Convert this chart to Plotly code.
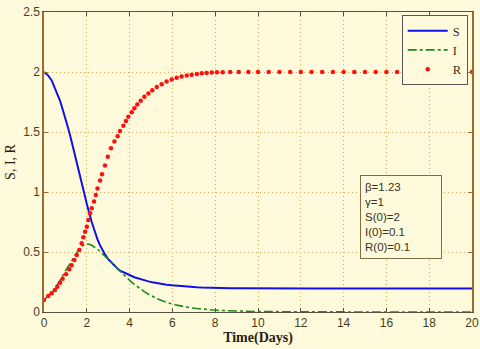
import plotly.graph_objects as go

# time points (days)
t = [0, 0.2, 0.36, 0.51, 0.62, 0.75, 0.87, 1.03, 1.18, 1.29, 1.42, 1.53, 1.65, 1.76,
     1.84, 1.92, 2.0, 2.07, 2.15, 2.23, 2.34, 2.42, 2.5, 2.62, 2.71, 2.85, 2.98, 3.13,
     3.29, 3.44, 3.55, 3.71, 3.83, 3.94, 4.1, 4.22, 4.36, 4.52, 4.69, 4.88, 5.06, 5.27,
     5.5, 5.73, 5.97, 6.2, 6.43, 6.67, 6.9, 7.14, 7.37, 7.6, 7.84, 8.08, 8.35, 8.7, 9.1,
     9.55, 10.0, 10.5, 11.0, 11.5, 12.0, 12.5, 13.0, 13.5, 14.0, 14.5, 15.0, 15.5, 16.0,
     16.5, 17.0, 17.5, 18.0, 18.5, 19.0, 19.5, 20.0]

S = [2.0, 1.97, 1.93, 1.87, 1.82, 1.76, 1.69, 1.6, 1.5, 1.42, 1.33, 1.25, 1.16, 1.08,
     1.02, 0.96, 0.9, 0.85, 0.8, 0.75, 0.69, 0.645, 0.605, 0.555, 0.52, 0.48, 0.445, 0.415,
     0.385, 0.36, 0.345, 0.33, 0.32, 0.31, 0.3, 0.29, 0.282, 0.272, 0.263, 0.255, 0.248, 0.24,
     0.233, 0.227, 0.222, 0.218, 0.214, 0.211, 0.208, 0.206, 0.204, 0.202, 0.201, 0.2, 0.199, 0.198, 0.197,
     0.196, 0.196, 0.195, 0.195, 0.195, 0.195, 0.195, 0.195, 0.195, 0.195, 0.195, 0.195, 0.195, 0.195,
     0.195, 0.195, 0.195, 0.195, 0.195, 0.195, 0.195, 0.195]

I = [0.1, 0.13, 0.16, 0.195, 0.225, 0.262, 0.3, 0.35, 0.395, 0.43, 0.47, 0.5, 0.528, 0.548,
     0.558, 0.565, 0.567, 0.566, 0.562, 0.556, 0.545, 0.535, 0.524, 0.505, 0.49, 0.468, 0.445, 0.418,
     0.388, 0.36, 0.34, 0.312, 0.29, 0.272, 0.247, 0.23, 0.21, 0.19, 0.17, 0.148, 0.13, 0.112,
     0.095, 0.08, 0.067, 0.057, 0.048, 0.04, 0.034, 0.029, 0.024, 0.02, 0.017, 0.014, 0.012, 0.009, 0.007,
     0.005, 0.004, 0.003, 0.002, 0.001, 0, 0, 0, 0, 0, 0, 0, 0, 0,
     0, 0, 0, 0, 0, 0, 0, 0]

R = [0.1, 0.133, 0.156, 0.183, 0.21, 0.244, 0.278, 0.314, 0.356, 0.39, 0.433, 0.475, 0.517, 0.572,
     0.622, 0.669, 0.711, 0.767, 0.822, 0.864, 0.92, 0.975, 1.03, 1.095, 1.147, 1.22, 1.294, 1.364,
     1.42, 1.464, 1.508, 1.553, 1.592, 1.628, 1.664, 1.697, 1.73, 1.76, 1.794, 1.82, 1.847, 1.876,
     1.898, 1.92, 1.937, 1.952, 1.962, 1.971, 1.978, 1.984, 1.989, 1.992, 1.995, 1.997, 1.998, 1.999, 2.0,
     2.0, 2.0, 2.0, 2.0, 2.0, 2.0, 2.0, 2.0, 2.0, 2.0, 2.0, 2.0, 2.0, 2.0,
     2.0, 2.0, 2.0, 2.0, 2.0, 2.0, 2.0, 2.0]

params = ["β=1.23", "γ=1", "S(0)=2", "I(0)=0.1", "R(0)=0.1"]

bg = "#fffadc"
grid = "#d9a865"
serif = "Liberation Serif, Times New Roman, serif"

fig = go.Figure()
fig.add_trace(go.Scatter(x=t, y=S, mode="lines", name="S",
                         line=dict(color="#1010e8", width=2)))
fig.add_trace(go.Scatter(x=t, y=I, mode="lines", name="I",
                         line=dict(color="#1a8c1a", width=1.6, dash="dashdot")))
fig.add_trace(go.Scatter(x=t, y=R, mode="markers", name="R",
                         marker=dict(color="#ff1010", size=4.5)))

fig.add_annotation(
    x=0.738, y=0.457, xref="paper", yref="paper", xanchor="left", yanchor="top",
    text="<br>".join(params), showarrow=False, align="left",
    width=72, height=74,
    font=dict(family="Arial, Liberation Sans, sans-serif", size=11.5, color="#3a3020"),
    bgcolor=bg, bordercolor="#8a6a40", borderwidth=1, borderpad=4,
)

fig.update_layout(
    width=480, height=349,
    paper_bgcolor=bg, plot_bgcolor=bg,
    margin=dict(l=44, r=8, t=12, b=37),
    font=dict(family="Arial, Liberation Sans, sans-serif", size=12, color="#4a3a20"),
    showlegend=True,
    legend=dict(x=0.99, y=0.99, xanchor="right", yanchor="top",
                bgcolor=bg, bordercolor="#555555", borderwidth=1,
                font=dict(family=serif, size=12.5, color="#3a2a10"),
                itemwidth=40, tracegroupgap=0),
    xaxis=dict(range=[0, 20], tickvals=[0, 2, 4, 6, 8, 10, 12, 14, 16, 18, 20],
               automargin=False,
               showgrid=True, gridcolor=grid, griddash="1px,3px", gridwidth=1,
               zeroline=False, showline=True, linecolor="#5a5040", linewidth=1, mirror="ticks",
               ticks="inside", ticklen=4, tickcolor="#5a5040",
               title=dict(text="<b>Time(Days)</b>", standoff=2,
                          font=dict(family=serif, size=14, color="#2a2010"))),
    yaxis=dict(range=[0, 2.5], tickvals=[0, 0.5, 1, 1.5, 2, 2.5],
               automargin=False,
               showgrid=True, gridcolor=grid, griddash="1px,3px", gridwidth=1,
               zeroline=False, showline=True, linecolor="#9b6b2f", linewidth=1.5, mirror="ticks",
               ticks="inside", ticklen=4, tickcolor="#9b6b2f",
               title=dict(text="S, I, R", standoff=4,
                          font=dict(family=serif, size=14, color="#2a2010"))),
)

fig.write_html("out.html", config={"displayModeBar": False},
               post_script="document.body.style.margin='0';document.body.style.background='#ffffff';")
